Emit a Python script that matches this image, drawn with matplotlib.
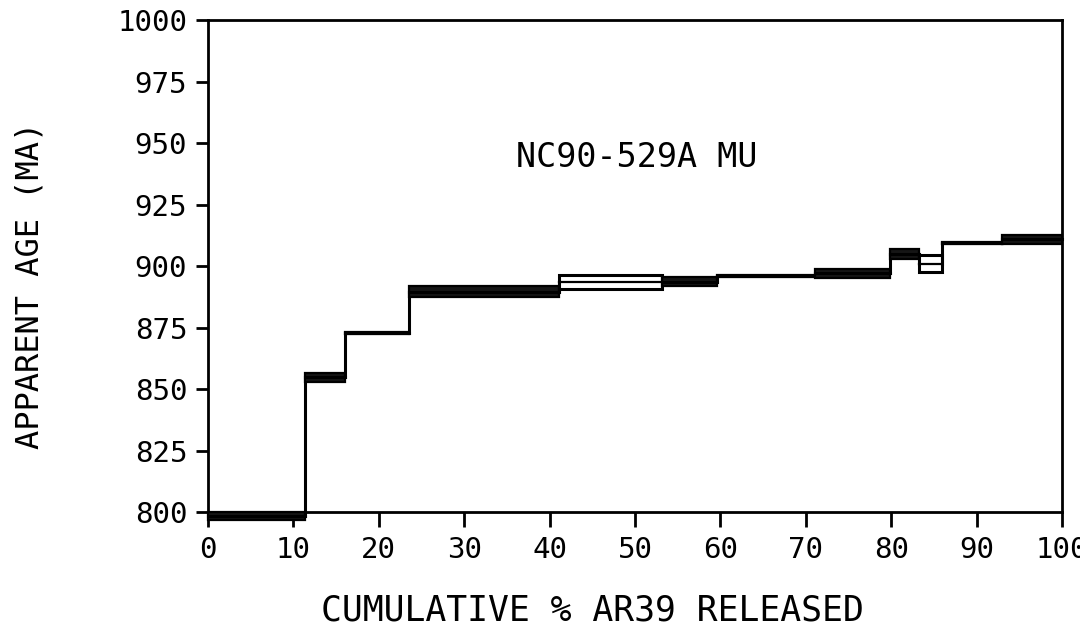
import matplotlib
matplotlib.use("Agg")
import matplotlib.pyplot as plt
from matplotlib.patches import Rectangle

# step spectrum data (cumulative % Ar39 released)
step_start = [0, 11.4, 16.0, 23.5, 41.1, 53.2, 59.6, 71.1, 79.9, 83.3, 86.0, 93.0]
step_end = [11.4, 16.0, 23.5, 41.1, 53.2, 59.6, 71.1, 79.9, 83.3, 86.0, 93.0, 100]
ages = [798.4, 854.7, 872.8, 889.6, 893.5, 893.7, 895.9, 897.0, 904.9, 901.0, 909.3, 910.8]
errs = [1.6, 1.9, 0.3, 2.2, 2.8, 1.8, 0.3, 1.8, 2.0, 3.4, 0.3, 1.8]
open_box = [False, False, False, False, True, False, False, False, False, True, False, False]

x_ticks = [0, 10, 20, 30, 40, 50, 60, 70, 80, 90, 100]
y_ticks = [800, 825, 850, 875, 900, 925, 950, 975, 1000]

plt.rcParams['font.family'] = ['DejaVu Sans Mono']

fig = plt.figure(figsize=(10.8, 6.37), dpi=100)
ax = fig.add_axes([0.1926, 0.1962, 0.7907, 0.7724])

lw = 2.2
for i in range(len(ages)):
    x0, x1 = step_start[i], step_end[i]
    lo, hi = ages[i] - errs[i], ages[i] + errs[i]
    if open_box[i]:
        ax.add_patch(Rectangle((x0, lo), x1 - x0, hi - lo, facecolor='white',
                               edgecolor='black', lw=lw, clip_on=False, zorder=3))
        ax.plot([x0, x1], [ages[i], ages[i]], color='black', lw=1.6, zorder=4)
    else:
        ax.add_patch(Rectangle((x0, lo), x1 - x0, hi - lo, facecolor='#151515',
                               edgecolor='black', lw=1.6, clip_on=False, zorder=3))
        ax.plot([x0, x1], [ages[i], ages[i]], color='black', lw=lw, zorder=3,
                clip_on=False)
    if i + 1 < len(ages):
        ax.plot([x1, x1], [ages[i], ages[i + 1]], color='black', lw=lw, zorder=3,
                clip_on=False)

ax.set_xlim(0, 100)
ax.set_ylim(800, 1000)
ax.set_xticks(x_ticks)
ax.set_yticks(y_ticks)
ax.set_xticklabels([str(v) for v in x_ticks], fontsize=21)
ax.set_yticklabels([str(v) for v in y_ticks], fontsize=21)
ax.tick_params(axis='x', direction='out', length=11, width=2, pad=6)
ax.tick_params(axis='y', direction='out', length=9, width=2, pad=6)
for s in ax.spines.values():
    s.set_linewidth(2)

ax.set_xlabel('CUMULATIVE % AR39 RELEASED', fontsize=25)
ax.set_ylabel('APPARENT AGE (MA)', fontsize=23)
ax.xaxis.set_label_coords(0.45, -0.165)
ax.yaxis.set_label_coords(-0.19, 0.46)
ax.text(50.2, 944, 'NC90-529A MU', fontsize=24, ha='center', va='center')

fig.savefig('out.png', dpi=100)
